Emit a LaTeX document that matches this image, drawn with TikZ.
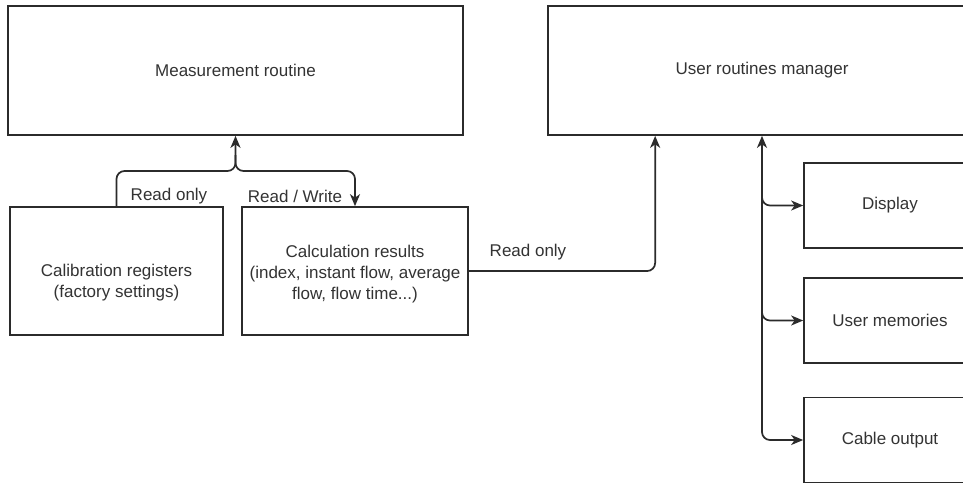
\documentclass[tikz,border=0pt]{standalone}
\usepackage{fontspec}
\setmainfont{Liberation Sans}
\usetikzlibrary{arrows.meta}
\definecolor{ink}{HTML}{2B2B2B}
\definecolor{txt}{HTML}{333333}
\tikzset{
  box/.style={draw=ink, line width=1.7pt, fill=white, text=txt, align=center,
    inner sep=0pt, font=\fontsize{17}{21}\selectfont},
  conn/.style={draw=ink, line width=1.7pt, rounded corners=8pt},
  tipend/.style={-{Stealth[length=12pt,width=10pt,inset=3.5pt]}},
  tipboth/.style={{Stealth[length=12pt,width=10pt,inset=3.5pt]}-{Stealth[length=12pt,width=10pt,inset=3.5pt]}},
  lbl/.style={text=txt, inner sep=0pt, align=center, font=\fontsize{17}{21}\selectfont},
}
\begin{document}
\begin{tikzpicture}[x=1pt,y=-1pt]
\useasboundingbox (0,0) rectangle (963,483);
\clip (0,0) rectangle (963,483);
\fill[white] (0,0) rectangle (963,483);
% boxes
\node[box, minimum width=455pt, minimum height=129pt] (meas) at (235.5,70.5) {Measurement routine};
\node[box, minimum width=428pt, minimum height=129pt] (mgr) at (762,70.5) {User routines manager};
\node[box, minimum width=213pt, minimum height=128pt] (calib) at (116.5,271) {};
\node[lbl] (calibtext) at (116.5,283) {Calibration registers\\(factory settings)};
\node[box, minimum width=226pt, minimum height=128pt] (calc) at (355,271) {};
\node[lbl] (calctext) at (355,274.5) {Calculation results\\(index, instant flow, average\\flow, flow time...)};
\node[box, minimum width=172pt, minimum height=85pt] (disp) at (890,205.5) {Display};
\node[box, minimum width=172pt, minimum height=85pt] (mem) at (890,320.5) {User memories};
\node[box, minimum width=172pt, minimum height=85pt] (cable) at (890,440) {Cable output};
% junction coordinates
\coordinate (j) at (235.5,171);
\coordinate (j0) at (235.5,155);
\coordinate (m1) at ([xshift=108pt]mgr.south west);
\coordinate (b0) at ([yshift=-40pt]mgr.south);
% connectors
\draw[conn, tipend] (calib.north) |- (j) -- (meas.south);
\draw[conn, tipend] (j0) -- (j) -| (calc.north);
\draw[conn, tipend] (calc.east) -| (m1);
\draw[conn, tipboth] (mgr.south) |- (cable.west);
\draw[conn, tipend] (b0) |- (disp.west);
\draw[conn, tipend] (b0) |- (mem.west);
% labels
\node[lbl] (l1) at (169,196) {Read only};
\node[lbl] (l2) at (295,196) {Read / Write};
\node[lbl] (l3) at (528,252) {Read only};
\end{tikzpicture}
\end{document}
